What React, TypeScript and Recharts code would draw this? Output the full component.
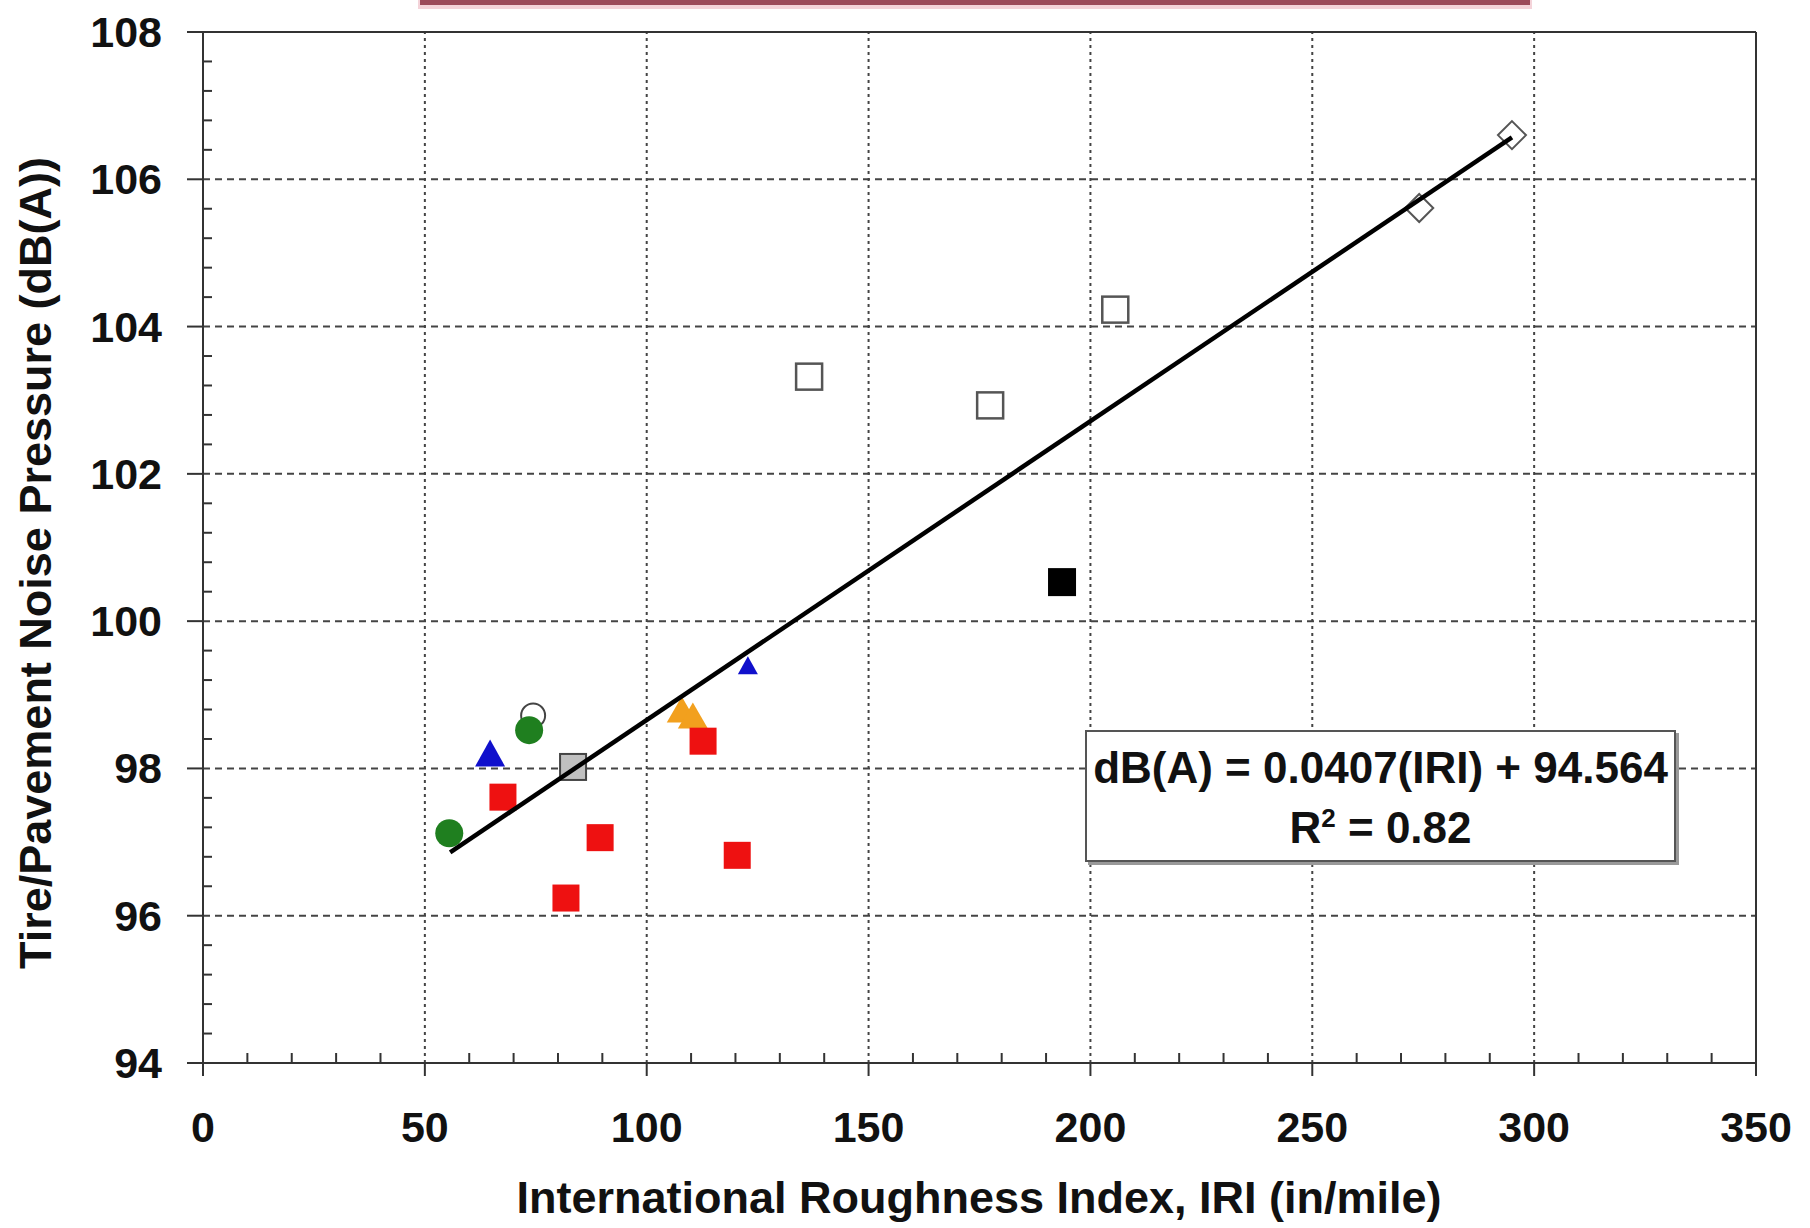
import React from "react";
import {
  ScatterChart,
  Scatter,
  XAxis,
  YAxis,
  ReferenceLine,
} from "recharts";

// IRI (in/mile) vs tire/pavement noise
const redSquares = [
  { x: 67.6, y: 97.61 },
  { x: 81.8, y: 96.24 },
  { x: 89.5, y: 97.06 },
  { x: 112.7, y: 98.37 },
  { x: 120.4, y: 96.82 },
];
const greenCircles = [
  { x: 55.5, y: 97.12 },
  { x: 73.5, y: 98.52 },
];
const openCircles = [{ x: 74.4, y: 98.72 }];
const blueTriangles = [{ x: 64.7, y: 98.21 }];
const blueTrianglesSmall = [{ x: 122.8, y: 99.4 }];
const orangeTriangles = [
  { x: 107.9, y: 98.8 },
  { x: 110.4, y: 98.72 },
];
const graySquares = [{ x: 83.4, y: 98.02 }];
const openSquares = [
  { x: 136.6, y: 103.32 },
  { x: 177.4, y: 102.93 },
  { x: 205.6, y: 104.23 },
];
const blackSquares = [{ x: 193.6, y: 100.53 }];
const openDiamonds = [
  { x: 274.1, y: 105.61 },
  { x: 295.0, y: 106.6 },
];
const trendLine = [
  { x: 55.7, y: 96.86 },
  { x: 295.0, y: 106.57 },
];

const xTicks = [
  0, 10, 20, 30, 40, 50, 60, 70, 80, 90, 100, 110, 120, 130, 140, 150, 160, 170,
  180, 190, 200, 210, 220, 230, 240, 250, 260, 270, 280, 290, 300, 310, 320, 330,
  340, 350,
];
const yTicks = [
  94, 94.4, 94.8, 95.2, 95.6, 96, 96.4, 96.8, 97.2, 97.6, 98, 98.4, 98.8, 99.2,
  99.6, 100, 100.4, 100.8, 101.2, 101.6, 102, 102.4, 102.8, 103.2, 103.6, 104,
  104.4, 104.8, 105.2, 105.6, 106, 106.4, 106.8, 107.2, 107.6, 108,
];
const xGrid = [50, 100, 150, 200, 250, 300];
const yGrid = [96, 98, 100, 102, 104, 106];

const FONT = "'Liberation Sans', Arial, sans-serif";
const AXIS = "#333";

function XTick({ x, y, payload }: any) {
  const v = payload.value;
  if (v % 50 !== 0) {
    return <line x1={x} x2={x} y1={y} y2={y - 10} stroke={AXIS} strokeWidth={2} />;
  }
  return (
    <g>
      <line x1={x} x2={x} y1={y} y2={y + 13} stroke={AXIS} strokeWidth={2} />
      <text x={x} y={y + 79} textAnchor="middle" fontFamily={FONT} fontWeight="bold" fontSize={43} fill="#111">
        {v}
      </text>
    </g>
  );
}

function YTick({ x, y, payload }: any) {
  const v = payload.value;
  const r = Math.round(v);
  const major = Math.abs(v - r) < 1e-6 && r % 2 === 0;
  if (!major) {
    return <line x1={x} x2={x + 9} y1={y} y2={y} stroke={AXIS} strokeWidth={2} />;
  }
  return (
    <g>
      <line x1={x - 16} x2={x} y1={y} y2={y} stroke={AXIS} strokeWidth={2} />
      <text x={x - 41} y={y + 15} textAnchor="end" fontFamily={FONT} fontWeight="bold" fontSize={43} fill="#111">
        {r}
      </text>
    </g>
  );
}

const square = (s: number, fill: string, stroke = "none", sw = 0) => (p: any) => (
  <rect x={p.cx - s / 2} y={p.cy - s / 2} width={s} height={s} fill={fill} stroke={stroke} strokeWidth={sw} />
);
const circle = (r: number, fill: string, stroke = "none", sw = 0) => (p: any) => (
  <circle cx={p.cx} cy={p.cy} r={r} fill={fill} stroke={stroke} strokeWidth={sw} />
);
const triangle = (w: number, h: number, fill: string) => (p: any) => (
  <polygon
    points={`${p.cx},${p.cy - h / 2} ${p.cx - w / 2},${p.cy + h / 2} ${p.cx + w / 2},${p.cy + h / 2}`}
    fill={fill}
  />
);
const diamond = (s: number, stroke: string) => (p: any) => (
  <polygon
    points={`${p.cx},${p.cy - s} ${p.cx + s},${p.cy} ${p.cx},${p.cy + s} ${p.cx - s},${p.cy}`}
    fill="#fff"
    stroke={stroke}
    strokeWidth={2}
  />
);

export default function App() {
  return (
    <div style={{ position: "absolute", left: 0, top: 0, width: 1810, height: 1228, background: "#fff" }}>
      <div style={{ position: "absolute", left: 418, top: 0, width: 1114, height: 9, background: "#f4d3d9" }} />
      <div style={{ position: "absolute", left: 420, top: 0, width: 1110, height: 5, background: "#9c4b5a" }} />
      <ScatterChart width={1810} height={1228} margin={{ top: 32, right: 54, bottom: 0, left: 0 }}>
        <XAxis
          type="number"
          dataKey="x"
          domain={[0, 350]}
          ticks={xTicks}
          interval={0}
          height={165}
          tickSize={0}
          tickMargin={0}
          tickLine={false}
          tick={<XTick />}
          axisLine={{ stroke: AXIS, strokeWidth: 2 }}
          label={{
            content: () => (
              <text x={979} y={1213} textAnchor="middle" fontFamily={FONT} fontWeight="bold" fontSize={45} fill="#111">
                International Roughness Index, IRI (in/mile)
              </text>
            ),
          }}
        />
        <YAxis
          type="number"
          dataKey="y"
          domain={[94, 108]}
          ticks={yTicks}
          interval={0}
          width={203}
          tickSize={0}
          tickMargin={0}
          tickLine={false}
          tick={<YTick />}
          axisLine={{ stroke: AXIS, strokeWidth: 2 }}
          label={{
            content: () => (
              <text
                x={51}
                y={563}
                transform="rotate(-90 51 563)"
                textAnchor="middle"
                fontFamily={FONT}
                fontWeight="bold"
                fontSize={45}
                fill="#111"
              >
                Tire/Pavement Noise Pressure (dB(A))
              </text>
            ),
          }}
        />
        {xGrid.map((v) => (
          <ReferenceLine key={"vx" + v} x={v} stroke="#444" strokeWidth={2} strokeDasharray="3 4" />
        ))}
        {yGrid.map((v) => (
          <ReferenceLine key={"hy" + v} y={v} stroke="#444" strokeWidth={2} strokeDasharray="7 5" />
        ))}
        <ReferenceLine y={108} stroke={AXIS} strokeWidth={2} />
        <ReferenceLine x={350} stroke={AXIS} strokeWidth={2} />

        <Scatter data={orangeTriangles} shape={triangle(30, 26, "#f2a01e")} isAnimationActive={false} />
        <Scatter data={redSquares} shape={square(27, "#ee1111")} isAnimationActive={false} />
        <Scatter data={openCircles} shape={circle(12, "#fff", "#444", 2)} isAnimationActive={false} />
        <Scatter data={greenCircles} shape={circle(14, "#1f7f1f")} isAnimationActive={false} />
        <Scatter data={blueTriangles} shape={triangle(30, 27, "#1010cc")} isAnimationActive={false} />
        <Scatter data={blueTrianglesSmall} shape={triangle(20, 18, "#1010cc")} isAnimationActive={false} />
        <Scatter data={graySquares} shape={square(26, "#c0c0c0", "#444", 2)} isAnimationActive={false} />
        <Scatter data={openSquares} shape={square(26, "#fff", "#555", 2.5)} isAnimationActive={false} />
        <Scatter data={blackSquares} shape={square(28, "#000")} isAnimationActive={false} />
        <Scatter data={openDiamonds} shape={diamond(14, "#555")} isAnimationActive={false} />
        <Scatter
          data={trendLine}
          line={{ stroke: "#000", strokeWidth: 4.5 }}
          shape={() => <g />}
          isAnimationActive={false}
        />
      </ScatterChart>
      <div
        style={{
          position: "absolute",
          left: 1085,
          top: 730,
          width: 591,
          height: 132,
          background: "#fff",
          border: "2px solid #555",
          boxShadow: "3px 3px 0 #999",
          fontFamily: FONT,
          fontWeight: "bold",
          fontSize: 44,
          color: "#111",
          textAlign: "center",
          lineHeight: "60px",
          paddingTop: 6,
          boxSizing: "border-box",
        }}
      >
        <div>dB(A) = 0.0407(IRI) + 94.564</div>
        <div>
          R<sup style={{ fontSize: 26, lineHeight: 0, verticalAlign: "super" }}>2</sup> = 0.82
        </div>
      </div>
    </div>
  );
}
